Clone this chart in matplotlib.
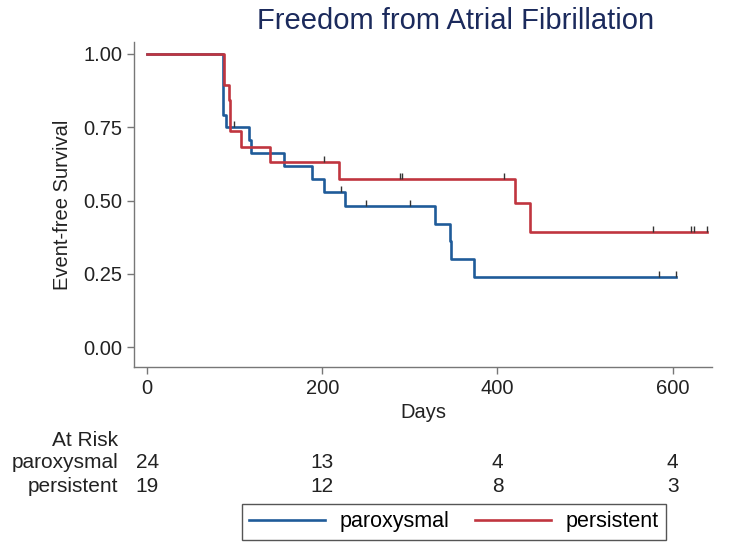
import numpy as np
import matplotlib
matplotlib.use("Agg")
import matplotlib.pyplot as plt

plt.rcParams.update({
    "font.family": ["Liberation Sans", "DejaVu Sans"],
    "font.size": 14,
})

# Kaplan-Meier steps (days, survival)
par_times = [0, 87, 90, 116.5, 119, 156, 188, 202.5, 226.5, 328.5, 345.5, 347.5, 373]
par_surv = [1.0, 0.792, 0.750, 0.706, 0.662, 0.618, 0.574, 0.530, 0.482, 0.420, 0.361, 0.301, 0.241]
par_end = 604
par_censored = [99.5, 221, 250, 300, 585, 604]

per_times = [0, 88, 93.5, 94.5, 107, 140, 219, 419.5, 437.5]
per_surv = [1.0, 0.895, 0.842, 0.737, 0.684, 0.632, 0.574, 0.492, 0.394]
per_end = 639
per_censored = [202.5, 289, 291, 408, 578, 621, 624.5, 639]

risk_days = [0, 200, 400, 600]
risk_par = [24, 13, 4, 4]
risk_per = [19, 12, 8, 3]

BLUE = "#1f5b99"
RED = "#c0353f"
TXT = "#222222"
W, H = 755, 545

fig = plt.figure(figsize=(W / 100, H / 100), dpi=100)
ax = fig.add_axes([134 / W, 1 - 367 / H, (712 - 134) / W, (367 - 42) / H])


def km(ax, times, surv, end, cens, color, label):
    t = list(times) + [end]
    s = list(surv) + [surv[-1]]
    ax.step(t, s, where="post", color=color, lw=1.9, label=label, zorder=3)
    idx = np.searchsorted(times, cens, side="right") - 1
    lvl = np.array(surv)[idx]
    ax.vlines(cens, lvl, lvl + 0.02, color="#333333", lw=1, zorder=4)


km(ax, par_times, par_surv, par_end, par_censored, BLUE, "paroxysmal")
km(ax, per_times, per_surv, per_end, per_censored, RED, "persistent")

ax.set_xlim(-15, 645)
ax.set_ylim(-0.067, 1.04)
ax.set_xticks(risk_days)
ax.set_yticks([0, 0.25, 0.5, 0.75, 1.0])
ax.set_yticklabels(["0.00", "0.25", "0.50", "0.75", "1.00"])
for side in ["top", "right"]:
    ax.spines[side].set_visible(False)
for side in ["left", "bottom"]:
    ax.spines[side].set_color("#777777")
    ax.spines[side].set_linewidth(1)
ax.tick_params(colors="#777777", labelcolor=TXT, length=5, width=1, labelsize=14.5)
ax.set_xlabel("Days", fontsize=14.5, color=TXT, labelpad=4)
ax.set_ylabel("Event-free Survival", fontsize=14.5, color=TXT, labelpad=8)

fig.text(456 / W, 1 - 21 / H, "Freedom from Atrial Fibrillation", ha="center", va="center",
         fontsize=21, color="#1b2a5c")

# at-risk table
fs = 15
fig.text(118 / W, 1 - 440 / H, "At Risk", ha="right", va="center", fontsize=fs, color=TXT)
fig.text(118 / W, 1 - 463 / H, "paroxysmal", ha="right", va="center", fontsize=fs, color=TXT)
fig.text(118 / W, 1 - 487 / H, "persistent", ha="right", va="center", fontsize=fs, color=TXT)
trans = matplotlib.transforms.blended_transform_factory(ax.transData, fig.transFigure)
for d, a, b in zip(risk_days, risk_par, risk_per):
    fig.text(d, 1 - 463 / H, str(a), transform=trans, ha="center", va="center", fontsize=fs, color=TXT)
    fig.text(d, 1 - 487 / H, str(b), transform=trans, ha="center", va="center", fontsize=fs, color=TXT)

leg = fig.legend(loc="center", bbox_to_anchor=(454 / W, 1 - 522 / H), ncol=2, fancybox=False,
                 edgecolor="#555555", handlelength=3.5, handletextpad=0.7, columnspacing=1.2,
                 fontsize=15.5, borderpad=0.35, framealpha=1)
leg.get_frame().set_linewidth(1)

fig.savefig("out.png", dpi=100)
